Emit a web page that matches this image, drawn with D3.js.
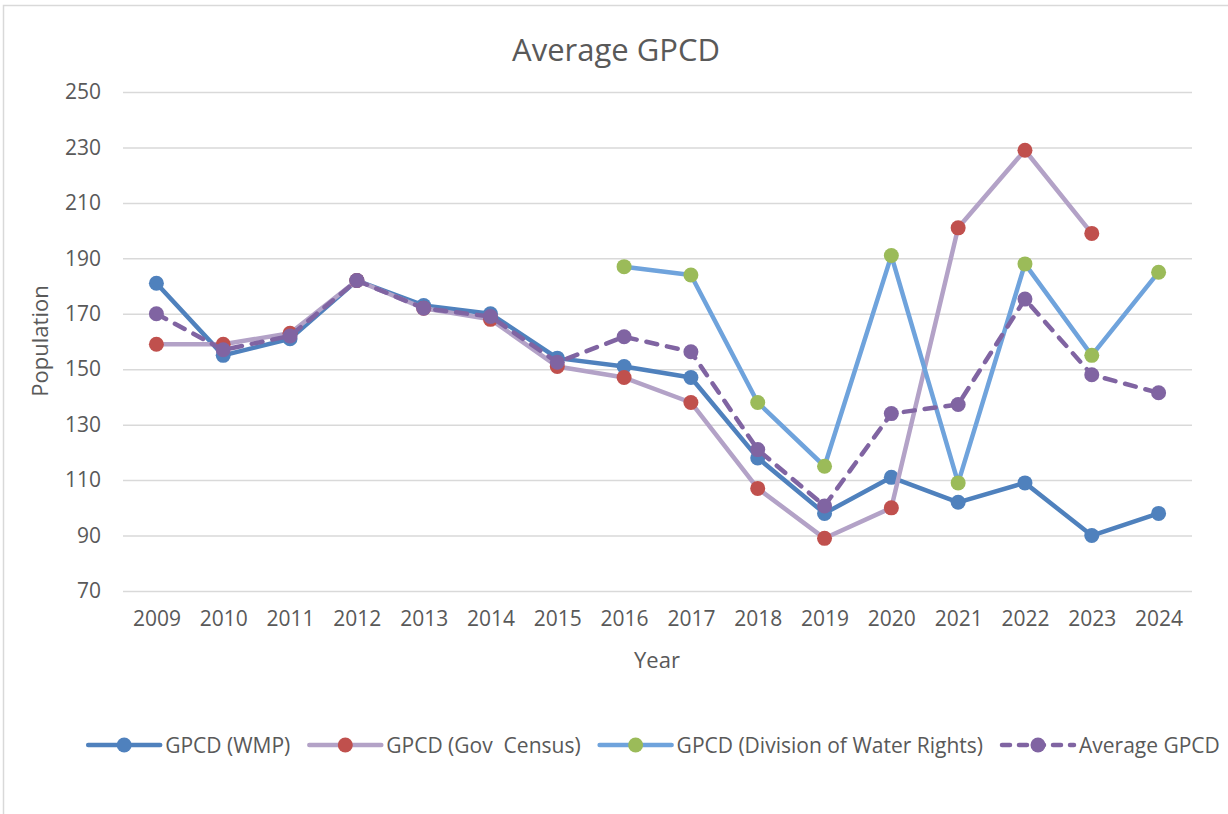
<!DOCTYPE html>
<html>
<head>
<meta charset="utf-8">
<script src="https://cdn.jsdelivr.net/npm/d3@7"></script>
<style>
  body { margin: 0; background: #fff; }
  text { font-family: "Open Sans", "Noto Sans", sans-serif; fill: #595959; }
</style>
</head>
<body>
<div id="chart"></div>
<script>
// Chart data
var years = ["2009", "2010", "2011", "2012", "2013", "2014", "2015", "2016",
             "2017", "2018", "2019", "2020", "2021", "2022", "2023", "2024"];
var wmp = [181, 155, 161, 182, 173, 170, 154, 151, 147, 118, 98, 111, 102, 109, 90, 98];
var govCensus = [159, 159, 163, 182, 172, 168, 151, 147, 138, 107, 89, 100, 201, 229, 199, null];
var waterRights = [null, null, null, null, null, null, null, 187, 184, 138, 115, 191, 109, 188, 155, 185];
var average = [170, 157, 162, 182, 172, 169, 152.5, 161.7, 156.3, 121, 100.7, 134, 137.3, 175.3, 148, 141.5];
var yTicks = [70, 90, 110, 130, 150, 170, 190, 210, 230, 250];

var seriesNames = ["GPCD (WMP)", "GPCD (Gov  Census)", "GPCD (Division of Water Rights)", "Average GPCD"];

var W = 1228, H = 814;

var series = [
  { name: seriesNames[0], values: wmp, line: "#4F81BD", marker: "#4F81BD", dash: null },
  { name: seriesNames[1], values: govCensus, line: "#B3A2C7", marker: "#C0504D", dash: null },
  { name: seriesNames[2], values: waterRights, line: "#6FA3DC", marker: "#9BBB59", dash: null },
  { name: seriesNames[3], values: average, line: "#8064A2", marker: "#8064A2", dash: "11,10" }
];

var svg = d3.select("#chart").append("svg")
  .attr("width", W)
  .attr("height", H);

// chart area border (cropped on right and bottom)
svg.append("rect")
  .attr("x", 3.5).attr("y", 5.5)
  .attr("width", 1400).attr("height", 1000)
  .attr("fill", "#fff")
  .attr("stroke", "#D9D9D9")
  .attr("stroke-width", 1.5);

// Scales
var x = d3.scalePoint().domain(years).range([123, 1192]).padding(0.5);
var y = d3.scaleLinear().domain([70, 250]).range([591, 92]);

// Gridlines
svg.append("g")
  .attr("class", "grid")
  .attr("transform", "translate(123,0)")
  .call(d3.axisLeft(y).tickValues(yTicks).tickSize(-(1192 - 123)).tickFormat(""))
  .call(function (g) { g.select(".domain").remove(); })
  .selectAll("line")
  .attr("stroke", "#D9D9D9")
  .attr("stroke-width", 1.5);

// Y axis labels
svg.append("g")
  .attr("transform", "translate(123,0)")
  .call(d3.axisLeft(y).tickValues(yTicks).tickSize(0).tickPadding(22))
  .call(function (g) { g.select(".domain").remove(); })
  .selectAll("text")
  .style("font-size", "21px")
  .style("font-family", "'Open Sans', sans-serif")
  .attr("fill", "#595959");

// X axis labels
svg.append("g")
  .attr("transform", "translate(0,591)")
  .call(d3.axisBottom(x).tickSize(0).tickPadding(20))
  .call(function (g) { g.select(".domain").remove(); })
  .selectAll("text")
  .style("font-size", "21px")
  .style("font-family", "'Open Sans', sans-serif")
  .attr("fill", "#595959");

// Title
svg.append("text")
  .attr("x", 616)
  .attr("y", 61)
  .attr("text-anchor", "middle")
  .style("font-size", "31px")
  .text("Average GPCD");

// Axis titles
svg.append("text")
  .attr("x", 657)
  .attr("y", 668)
  .attr("text-anchor", "middle")
  .style("font-size", "22px")
  .text("Year");

svg.append("text")
  .attr("transform", "translate(48,341) rotate(-90)")
  .attr("text-anchor", "middle")
  .style("font-size", "22px")
  .text("Population");

// Lines
var line = d3.line()
  .defined(function (d) { return d != null; })
  .x(function (d, i) { return x(years[i]); })
  .y(function (d) { return y(d); });

series.forEach(function (s) {
  var g = svg.append("g").attr("class", "series");
  g.append("path")
    .datum(s.values)
    .attr("d", line)
    .attr("fill", "none")
    .attr("stroke", s.line)
    .attr("stroke-width", 4.5)
    .attr("stroke-linejoin", "round")
    .attr("stroke-linecap", "round")
    .attr("stroke-dasharray", s.dash);

  g.selectAll("circle")
    .data(s.values.map(function (v, i) { return { v: v, year: years[i] }; })
      .filter(function (d) { return d.v != null; }))
    .enter()
    .append("circle")
    .attr("cx", function (d) { return x(d.year); })
    .attr("cy", function (d) { return y(d.v); })
    .attr("r", 7.5)
    .attr("fill", s.marker);
});

// Legend
var legendY = 745;
var legend = svg.append("g").attr("class", "legend");
var items = legend.selectAll("g")
  .data(series)
  .enter()
  .append("g");

items.append("line")
  .attr("x1", 0).attr("x2", 72)
  .attr("y1", 0).attr("y2", 0)
  .attr("stroke", function (d) { return d.line; })
  .attr("stroke-width", 4.5)
  .attr("stroke-linecap", "round")
  .attr("stroke-dasharray", function (d) { return d.dash ? "8,9" : null; });

items.append("circle")
  .attr("cx", 36).attr("cy", 0).attr("r", 7.5)
  .attr("fill", function (d) { return d.marker; });

items.append("text")
  .attr("x", 77)
  .attr("y", 7.5)
  .attr("xml:space", "preserve")
  .style("white-space", "pre")
  .style("font-size", "21px")
  .text(function (d) { return d.name; });

// Lay out legend items one after another, centered on the chart area
var offsets = [];
var cursor = 0;
items.each(function () {
  offsets.push(cursor);
  var w = d3.select(this).select("text").node().getComputedTextLength();
  cursor += 77 + w + 19;
});
var total = cursor - 19;
var startX = 654 - total / 2;
items.attr("transform", function (d, i) {
  return "translate(" + (startX + offsets[i]) + "," + legendY + ")";
});
</script>
</body>
</html>
